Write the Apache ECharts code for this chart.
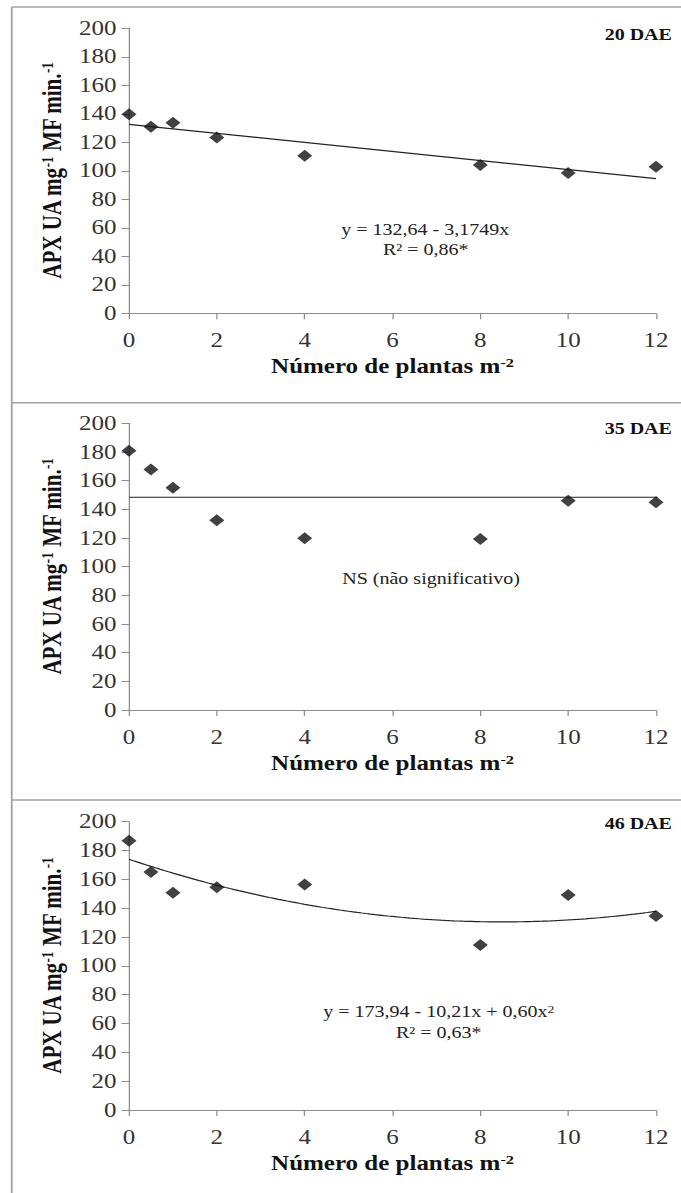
<!DOCTYPE html>
<html>
<head>
<meta charset="utf-8">
<script src="https://cdn.jsdelivr.net/npm/echarts@6.0.0/dist/echarts.min.js"></script>
<style>
  html, body { margin: 0; padding: 0; background: #fff; }
  #wrap { width: 681px; height: 1193px; overflow: hidden; background: #fff; }
  /* the figure is drawn narrow and widened horizontally */
  #chart { width: 545px; height: 1193px; transform: scaleX(1.25); transform-origin: 0 0; }
</style>
</head>
<body>
<div id="wrap"><div id="chart"></div></div>
<script>
// Plant density (plants per m²)
const densities = [0, 0.5, 1, 2, 4, 8, 10, 12];

// APX activity at each sampling date
const apx20 = [139.6, 131, 133.8, 123.3, 110.6, 104.1, 98.5, 102.9];
const apx35 = [180.9, 167.7, 155.1, 132.3, 119.8, 119.3, 146, 144.9];
const apx46 = [186.8, 165.1, 150.7, 154.5, 156.5, 114.5, 149.1, 134.6];

// Fitted models (coefficients as printed on each panel)
const fit20 = [132.64, -3.1749];          // y = a + b·x
const level35 = 148.4;                    // non-significant: flat line
const fit46 = [173.94, -10.21, 0.60];     // y = a + b·x + c·x²

const panelTags = ['20 DAE', '35 DAE', '46 DAE'];

const FONT = 'Liberation Serif';

function pairs(xs, ys) { return xs.map((x, i) => [x, ys[i]]); }
function poly(coef, x) { return coef.reduce((s, c, k) => s + c * Math.pow(x, k), 0); }
function curve(coef, x0, x1, step) {
  const out = [];
  for (let x = x0; x <= x1 + 1e-9; x += step) out.push([+x.toFixed(3), poly(coef, x)]);
  return out;
}

const grids = [
  { left: 103.2, top: 28.3, width: 421.6, height: 285 },
  { left: 103.2, top: 423.3, width: 421.6, height: 286.7 },
  { left: 103.2, top: 821.7, width: 421.6, height: 288.3 }
];

const richName = (size, supSize) => ({
  b: { fontFamily: FONT, fontSize: size, fontWeight: 'bold', color: '#111' },
  s: { fontFamily: FONT, fontSize: supSize, fontWeight: 'bold', color: '#111', verticalAlign: 'top', lineHeight: supSize }
});

const xAxes = grids.map((g, i) => ({
  type: 'value', gridIndex: i, min: 0, max: 12, interval: 2,
  name: '{b|Número de plantas m}{s|-2}',
  nameLocation: 'middle', nameGap: 43,
  nameTextStyle: { rich: richName(20, 13) },
  axisLine: { show: true, lineStyle: { color: '#8c8c8c', width: 1 } },
  axisTick: { show: true, length: 6, lineStyle: { color: '#8c8c8c' } },
  axisLabel: { margin: 17, fontFamily: FONT, fontSize: 20, color: '#333' },
  splitLine: { show: false }
}));

const yAxes = grids.map((g, i) => ({
  type: 'value', gridIndex: i, min: 0, max: 200, interval: 20,
  name: '{b|APX UA mg}{s|-1}{b| MF min.}{s|-1}',
  nameLocation: 'middle', nameGap: 49,
  nameTextStyle: { rich: richName(21, 13) },
  axisLine: { show: true, lineStyle: { color: '#8c8c8c', width: 1 } },
  axisTick: { show: true, length: 6, lineStyle: { color: '#8c8c8c' } },
  axisLabel: { margin: 10, fontFamily: FONT, fontSize: 20, color: '#333' },
  splitLine: { show: false }
}));

const pointStyle = { color: '#111' };
const fitLine = { color: '#222', width: 1.2 };

const series = [
  { type: 'scatter', xAxisIndex: 0, yAxisIndex: 0, symbol: 'diamond', symbolSize: 12,
    itemStyle: pointStyle, data: pairs(densities, apx20), z: 3 },
  { type: 'line', xAxisIndex: 0, yAxisIndex: 0, showSymbol: false, lineStyle: fitLine,
    data: [[0, poly(fit20, 0)], [12, poly(fit20, 12)]] },

  { type: 'scatter', xAxisIndex: 1, yAxisIndex: 1, symbol: 'diamond', symbolSize: 12,
    itemStyle: pointStyle, data: pairs(densities, apx35), z: 3 },
  { type: 'line', xAxisIndex: 1, yAxisIndex: 1, showSymbol: false, clip: false, lineStyle: fitLine,
    data: [[0, level35], [12.7, level35]] },

  { type: 'scatter', xAxisIndex: 2, yAxisIndex: 2, symbol: 'diamond', symbolSize: 12,
    itemStyle: pointStyle, data: pairs(densities, apx46), z: 3 },
  { type: 'line', xAxisIndex: 2, yAxisIndex: 2, showSymbol: false, smooth: false, lineStyle: fitLine,
    data: curve(fit46, 0, 12, 0.1) }
];

// panel frames
const frameColor = '#a3a3a3';
const frameLines = [
  { x1: 9.4, y1: 7, x2: 545, y2: 7 },
  { x1: 9.4, y1: 402.7, x2: 545, y2: 402.7 },
  { x1: 9.4, y1: 800, x2: 545, y2: 800 },
  { x1: 9.4, y1: 7, x2: 9.4, y2: 1193 }
].map(s => ({ type: 'line', silent: true, shape: s, style: { stroke: frameColor, lineWidth: 1.5 } }));

const tagY = [34.7, 428.3, 823.3];
const tags = panelTags.map((t, i) => ({
  type: 'text', x: 537.5, y: tagY[i],
  style: { text: t, fontFamily: FONT, fontSize: 16, fontWeight: 'bold', fill: '#111', align: 'right', verticalAlign: 'middle' }
}));

const eqStyle = (text, x, y) => ({
  type: 'text', x: x, y: y,
  style: { text: text, fontFamily: FONT, fontSize: 16, fill: '#222', align: 'center', verticalAlign: 'middle' }
});

const notes = [
  eqStyle('y = 132,64 - 3,1749x', 340.2, 230),
  eqStyle('R² = 0,86*', 340.6, 250),
  eqStyle('NS (não significativo)', 344.9, 578.3),
  {
    type: 'text', x: 351, y: 1011.7,
    style: {
      text: '{n|y = 173,94 - 10,21x + 0,60x}{s|2}',
      rich: {
        n: { fontFamily: FONT, fontSize: 16, fill: '#222' },
        s: { fontFamily: FONT, fontSize: 11, fill: '#222', verticalAlign: 'top', lineHeight: 11 }
      },
      align: 'center', verticalAlign: 'middle'
    }
  },
  eqStyle('R² = 0,63*', 351, 1032.7)
];

const chart = echarts.init(document.getElementById('chart'), null, { renderer: 'svg' });
chart.setOption({
  animation: false,
  backgroundColor: '#fff',
  grid: grids,
  xAxis: xAxes,
  yAxis: yAxes,
  series: series,
  graphic: frameLines.concat(tags, notes)
});
</script>
</body>
</html>
